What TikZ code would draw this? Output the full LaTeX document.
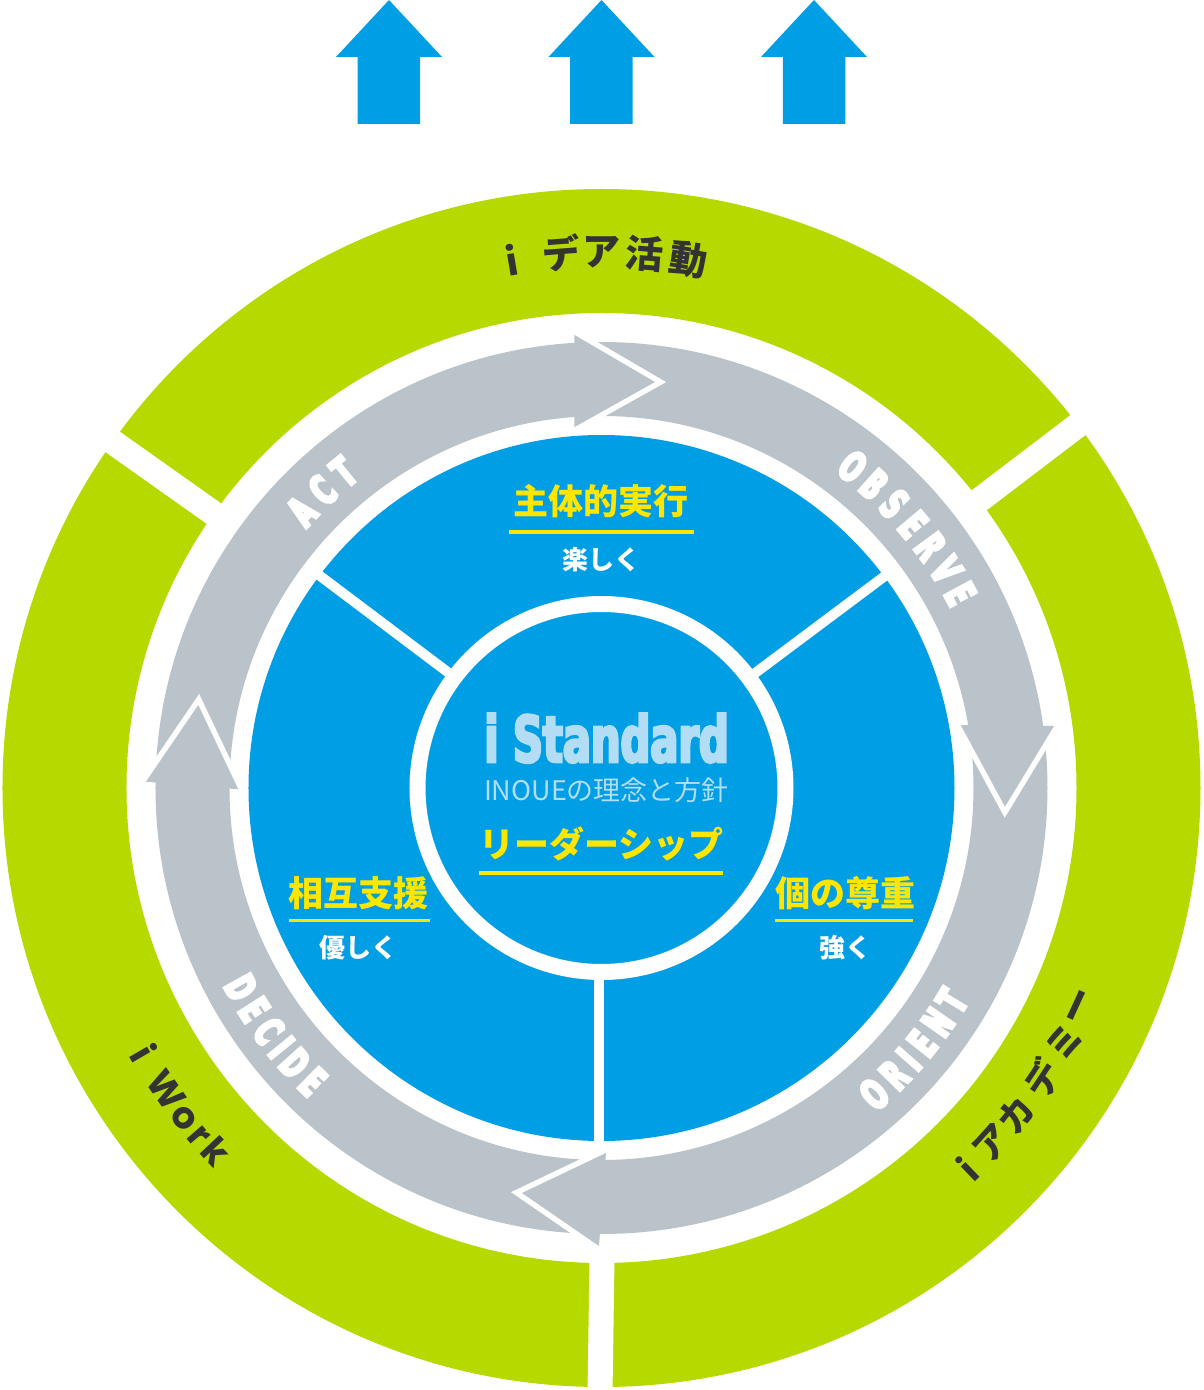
\documentclass[tikz,border=0pt]{standalone}
\usepackage{fontspec}
\setmainfont{Noto Sans CJK JP}
\newfontfamily\jp{Noto Sans CJK JP}
\newfontfamily\pop{Poppins}
\newfontfamily\cnd{DejaVu Sans Bold}[FakeStretch=0.6, FakeBold=7]
\newfontfamily\cndS{DejaVu Sans Bold}[FakeStretch=0.65, FakeBold=4]
\newcommand\fsz[1]{\fontsize{#1}{#1}\selectfont}
\definecolor{cgreen}{RGB}{182,217,0}
\definecolor{cgray}{RGB}{187,195,202}
\definecolor{cblue}{RGB}{0,158,228}
\definecolor{cyel}{RGB}{255,230,0}
\definecolor{clight}{RGB}{178,221,245}
\definecolor{cdark}{RGB}{51,51,51}
\begin{document}
\begin{tikzpicture}[x=1pt,y=1pt,
  ring/.style={even odd rule},
  gapline/.style={white, line width=25pt},
  spoke/.style={white, line width=10pt},
  vgap/.style={white, line width=11pt, line join=miter, miter limit=20},
  head/.style={fill=cgray},
  gtxt/.style={text=cdark, font={\jp\bfseries\fsz{38}}, inner sep=0pt},
  rtxt/.style={text=cdark, font={\jp\bfseries\fsz{36}}, inner sep=0pt},
  wtxt/.style={text=cdark, font={\pop\bfseries\fsz{37}}, inner sep=0pt, anchor=base},
  lab/.style={text=white, font={\cnd\fsz{41}}, inner sep=0pt},
  ytitle/.style={text=cyel, font={\jp\bfseries\fsz{35}}, inner sep=0pt},
  wsub/.style={text=white, font={\jp\bfseries\fsz{26}}, inner sep=0pt},
  uline/.style={cyel, line width=3.5pt},
  uparrow/.style={fill=cblue}]
\useasboundingbox (-601.5,-602) rectangle (601.5,788);
\coordinate (O) at (0,0);
% green ring with gaps
\fill[cgreen, ring] (O) circle (599) (O) circle (475);
\draw[gapline] (144.7:465) -- (144.7:612);
\draw[gapline] (37.3:465) -- (37.3:612);
\draw[gapline] (0.6,-465) -- (-1.6,-612);
% gray ring
\fill[cgray, ring] (O) circle (446) (O) circle (372);
% arrowheads
\coordinate (ta) at (-27,453); \coordinate (tt) at (53.5,406); \coordinate (tb) at (-27,361);
\coordinate (ra) at (452.5,62); \coordinate (rt) at (403.5,-18.7); \coordinate (rb) at (359.2,63);
\coordinate (ba) at (4.5,-365); \coordinate (bt) at (-79.5,-405); \coordinate (bb) at (-2.5,-458);
\coordinate (la) at (-455.5,6.3); \coordinate (lt) at (-403.2,83); \coordinate (lb) at (-363.2,-1.3);
\foreach \p in {t,r,b,l}{
  \draw[vgap] (\p a) -- (\p t) -- (\p b);
  \fill[head] (\p a) -- (\p t) -- (\p b) -- cycle;
}
% blue disc
\fill[cblue] (O) circle (353);
\draw[spoke] (143:183) -- (143:357);
\draw[spoke] (36.8:183) -- (36.8:357);
\draw[spoke] (-2.5,-183) -- (-2.5,-357);
\draw[white, line width=16pt] (O) circle (184);
% green ring texts
\foreach \c/\a in {i/99.65,デ/94.3,ア/90,活/85.4,動/80.6}
  \node[gtxt, rotate=\a-90] at (\a:536) {\c};
\foreach \c/\a in {i/-46.2,ア/-42.3,カ/-38.2,デ/-33.4,ミ/-28.8,ー/-24.6}
  \node[rtxt, rotate=\a+90] at (\a:528) {\c};
\foreach \c/\a in {i/210.1,W/214.8,o/218.3,r/220.85,k/223.35}
  \node[wtxt, rotate=\a+90] at (\a:543) {\c};
% gray ring labels
\foreach \c/\a in {A/137.3,C/133.15,T/129.2}
  \node[lab, rotate=\a-90] at (\a:408) {\c};
\foreach \c/\a in {O/52,B/48.07,S/44.13,E/40.2,R/36.27,V/32.33,E/28.4}
  \node[lab, rotate=\a-90] at (\a:408) {\c};
\foreach \c/\a in {O/-48.3,R/-44.43,I/-41.43,E/-38.53,N/-34.86,T/-31.28}
  \node[lab, rotate=\a+90] at (\a:410) {\c};
\foreach \c/\a in {D/208.97,E/212.55,C/216.13,I/219.03,D/221.93,E/225.51}
  \node[lab, rotate=\a+90] at (\a:412) {\c};
% blue disc texts
\node[ytitle] (t1) at (0,286.5) {主体的実行};
\draw[uline] (-92.5,256) -- (92.5,256);
\node[wsub] (s1) at (0,228) {楽しく};
\node[ytitle] (t2) at (-243,-105) {相互支援};
\draw[uline] (-312.5,-132.5) -- (-171.5,-132.5);
\node[wsub] (s2) at (-243,-160) {優しく};
\node[ytitle] (t3) at (243.5,-105) {個の尊重};
\draw[uline] (173.5,-132.5) -- (311.5,-132.5);
\node[wsub] (s3) at (243.5,-160) {強く};
\node[text=clight, font={\cndS\fsz{64}}, anchor=base, inner sep=0pt] (std) at (5,26) {i Standard};
\node[text=clight, font={\jp\fsz{27}}, inner sep=0pt] (phil) at (5,-2.7) {INOUEの理念と方針};
\node[ytitle] (lead) at (0,-55.5) {リーダーシップ};
\draw[uline] (-122.5,-85) -- (121.5,-85);
% top arrows
\foreach \cx in {-212.5,0,212.5}
  \fill[uparrow] (\cx-31.25,664) -- (\cx-31.25,731) -- (\cx-53,731) -- (\cx,788)
     -- (\cx+53,731) -- (\cx+31.25,731) -- (\cx+31.25,664) -- cycle;
\end{tikzpicture}
\end{document}
